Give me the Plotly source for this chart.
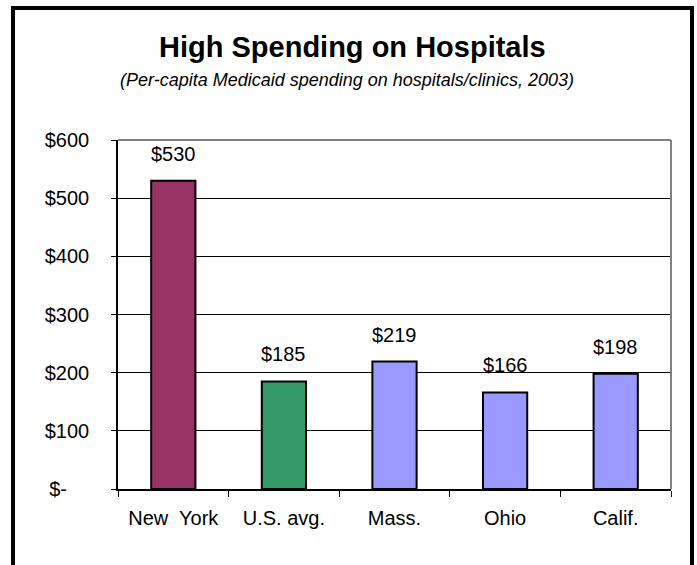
import plotly.graph_objects as go

categories = ["New  York", "U.S. avg.", "Mass.", "Ohio", "Calif."]
values = [530, 185, 219, 166, 198]
bar_colors = ["#993366", "#339966", "#9999FF", "#9999FF", "#9999FF"]
y_tickvals = [0, 100, 200, 300, 400, 500, 600]
nb = "\u00a0"
y_ticktext = ["$-" + nb * 4, "$100", "$200", "$300", "$400", "$500", "$600"]
value_labels = ["$%d" % v for v in values]

W, H = 697, 565
L, R, T, B = 118, 26, 140, 76
pw, ph = W - L - R, H - T - B

def px2x(px):
    return (px - L) / pw

def py2y(py):
    return (H - B - py) / ph

FONT = "Arial, Liberation Sans, sans-serif"

fig = go.Figure(go.Bar(
    x=categories, y=values,
    marker=dict(color=bar_colors, line=dict(color="black", width=2)),
    width=0.4,
    hoverinfo="skip",
))

annotations = []
for c, v, t in zip(categories, values, value_labels):
    annotations.append(dict(x=c, y=v, xref="x", yref="y", text=t, showarrow=False,
                            yanchor="bottom", yshift=14,
                            font=dict(family=FONT, size=20, color="black")))

annotations.append(dict(x=px2x(352), y=py2y(47), xref="paper", yref="paper",
                        text="<b>High Spending on Hospitals</b>", showarrow=False,
                        xanchor="center", yanchor="middle",
                        font=dict(family=FONT, size=29, color="black")))
annotations.append(dict(x=px2x(346.5), y=py2y(80), xref="paper", yref="paper",
                        text="<i>(Per-capita Medicaid spending on hospitals/clinics, 2003)</i>",
                        showarrow=False, xanchor="center", yanchor="middle",
                        font=dict(family=FONT, size=18, color="black")))

shapes = [
    # outer frame
    dict(type="rect", xref="paper", yref="paper",
         x0=px2x(13), x1=px2x(692), y0=py2y(600), y1=py2y(8),
         line=dict(color="black", width=4), fillcolor="rgba(0,0,0,0)", layer="above"),
    # gray top and right plot border
    dict(type="line", xref="paper", yref="paper", x0=0, x1=1, y0=1, y1=1,
         line=dict(color="#808080", width=2), layer="above"),
    dict(type="line", xref="paper", yref="paper", x0=1, x1=1, y0=0, y1=1,
         line=dict(color="#808080", width=2), layer="above"),
]

fig.update_layout(
    width=W, height=H,
    margin=dict(l=L, r=R, t=T, b=B, pad=0),
    paper_bgcolor="white", plot_bgcolor="white",
    showlegend=False,
    annotations=annotations,
    shapes=shapes,
    font=dict(family=FONT, size=20, color="black"),
    xaxis=dict(
        type="category", showline=True, linecolor="black", linewidth=1.5,
        ticks="outside", tickson="boundaries", ticklen=6, tickcolor="black", tickwidth=1,
        showgrid=False, tickfont=dict(family=FONT, size=20, color="black"),
        ticklabelstandoff=10, fixedrange=True,
    ),
    yaxis=dict(
        range=[0, 600], tickmode="array", tickvals=y_tickvals, ticktext=y_ticktext,
        showline=True, linecolor="black", linewidth=1.5,
        ticks="outside", ticklen=5, tickcolor="black", tickwidth=1,
        showgrid=True, gridcolor="black", gridwidth=1, zeroline=False,
        tickfont=dict(family=FONT, size=20, color="black"),
        ticklabelstandoff=18, fixedrange=True,
    ),
)

fig.write_html("out.html")
